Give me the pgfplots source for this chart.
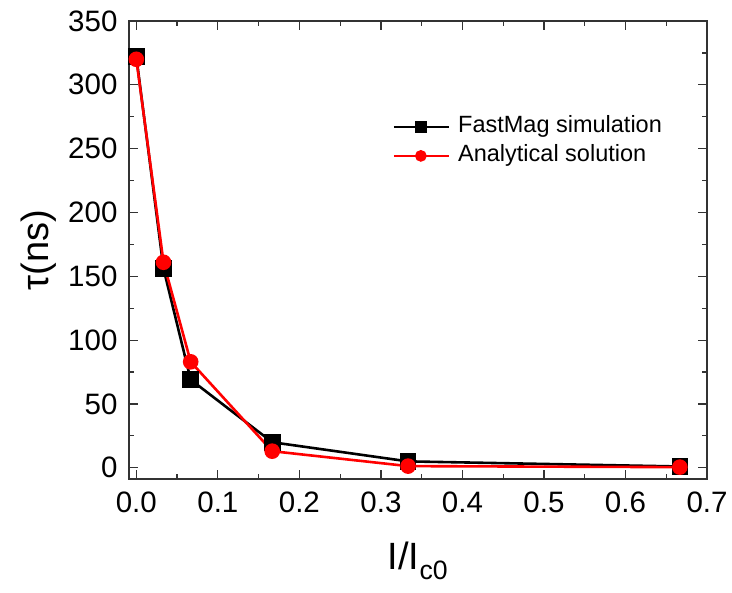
\documentclass[border=0pt]{standalone}
\usepackage{fontspec}
\setmainfont{Liberation Sans}
\usepackage{pgfplots}
\pgfplotsset{compat=1.18}
\begin{document}
\begin{tikzpicture}
\begin{axis}[
  name=ax, scale only axis, width=578pt, height=458pt,
  xmin=-0.009, xmax=0.7, ymin=-8.8, ymax=350,
  xtick={0,0.1,0.2,0.3,0.4,0.5,0.6,0.7},
  ytick={0,50,100,150,200,250,300,350},
  minor x tick num=1, minor y tick num=1,
  tick pos=both,
  tick align=inside, major tick length=9pt, minor tick length=5pt,
  every tick/.style={line width=1.2pt, black!80},
  axis line style={line width=1.6pt, black!80},
  /pgf/number format/assume math mode=true,
  x tick label style={/pgf/number format/fixed, /pgf/number format/fixed zerofill, /pgf/number format/precision=1, yshift=-9pt},
  y tick label style={xshift=-8pt},
  tick label style={font=\fontsize{29.5}{29.5}\selectfont},
  every axis y label/.style={at={(axis description cs:-0.157,0.5)}, rotate=90, anchor=center, font=\fontsize{38}{38}\selectfont},
  every axis x label/.style={at={(axis description cs:0.5,-0.198)}, anchor=base, font=\fontsize{38}{38}\selectfont},
  ylabel={τ(ns)},
  xlabel={I/I\textsubscript{c0}},
  legend style={draw=none, fill=none, inner sep=0pt, outer sep=0pt, at={(axis description cs:0.456,0.795)}, anchor=north west, font=\fontsize{23.5}{23.5}\selectfont, row sep=5pt, nodes={inner sep=1pt, text height=17pt, text depth=5pt}},
  legend cell align=left,
  legend image code/.code={\draw[#1, mark size=4.5pt, mark indices={2}] plot coordinates {(0pt,0pt) (27pt,0pt) (55pt,0pt)}; \path (62pt,0pt);},
]
\addplot[black, line width=2.6pt, mark=square*, mark size=7pt, mark options={solid}] coordinates {
  (0,322) (0.03333,156) (0.06667,69) (0.16667,20) (0.33333,5) (0.66667,1)
};
\addlegendentry{FastMag simulation}
\addplot[red, line width=2.6pt, mark=*, mark size=6.5pt, mark options={solid}] coordinates {
  (0,320) (0.03333,161) (0.06667,83) (0.16667,13) (0.33333,1.3) (0.66667,0.5)
};
\addlegendentry{Analytical solution}
\end{axis}
\pgfresetboundingbox
\path[use as bounding box] ([shift={(-129pt,-113pt)}]ax.south west) rectangle ([shift={(25pt,21pt)}]ax.north east);
\end{tikzpicture}
\end{document}
